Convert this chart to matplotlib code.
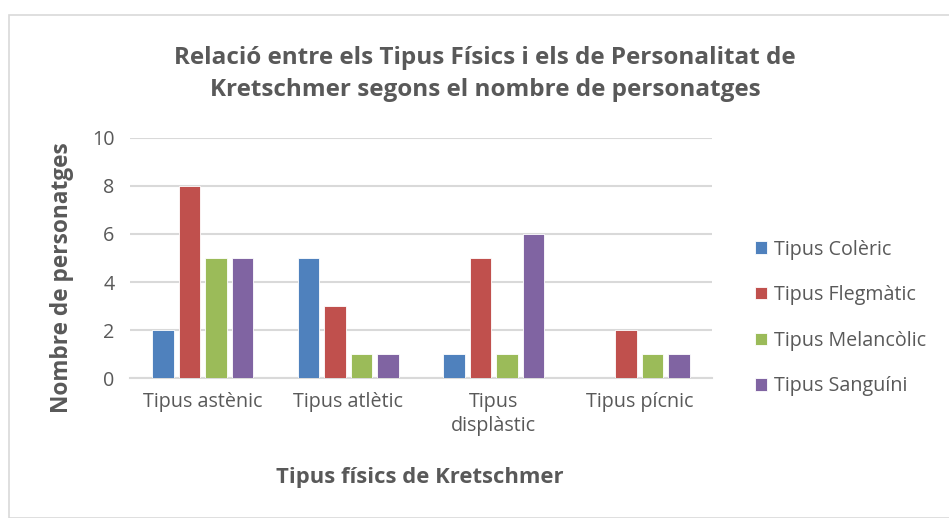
import matplotlib
matplotlib.use("Agg")
import matplotlib.pyplot as plt
import numpy as np
from matplotlib.patches import Rectangle

categories = ["Tipus astènic", "Tipus atlètic", "Tipus\ndisplàstic", "Tipus pícnic"]
series_names = ["Tipus Colèric", "Tipus Flegmàtic", "Tipus Melancòlic", "Tipus Sanguíni"]
colerico = [2, 5, 1, 0]
flegmatic = [8, 3, 5, 2]
melancolic = [5, 1, 1, 1]
sanguini = [5, 1, 6, 1]
series_values = [colerico, flegmatic, melancolic, sanguini]
colors = ["#4f81bd", "#c0504d", "#9bbb59", "#8064a2"]
yticks = [0, 2, 4, 6, 8, 10]

plt.rcParams['font.family'] = ['Open Sans', 'DejaVu Sans']

fig = plt.figure(figsize=(9.49, 5.18), dpi=100)
W, H = 949, 518
# chart border
fig.patches.append(Rectangle((8.5 / W, 0), 1.0, (518 - 14.5) / H, transform=fig.transFigure,
                             fill=False, edgecolor="#d9d9d9", linewidth=1.2))

ax = fig.add_axes([130 / W, (518 - 378) / H, (712 - 130) / W, 240 / H])
x = np.arange(len(categories))
step = 0.182
bw = 0.15
for i, (vals, c, name) in enumerate(zip(series_values, colors, series_names)):
    ax.bar(x + (i - 1.5) * step, vals, bw, color=c, label=name, edgecolor="white", linewidth=0.6, zorder=3)

ax.set_xlim(-0.5, len(categories) - 0.5)
ax.set_ylim(0, 10)
ax.set_yticks(yticks)
ax.set_xticks(x)
ax.set_xticklabels(categories)
ax.grid(axis="y", color="#d9d9d9", linewidth=1.5, zorder=0)
for s in ["top", "right", "left"]:
    ax.spines[s].set_visible(False)
ax.spines["bottom"].set_color("#d9d9d9")
ax.spines["bottom"].set_linewidth(1.5)
ax.tick_params(axis="both", length=0, colors="#595959", labelsize=14.2)
ax.tick_params(axis="y", pad=11)
ax.tick_params(axis="x", pad=10)
for lbl in ax.get_xticklabels():
    lbl.set_linespacing(1.25)

fig.text(485 / W, (518 - 74) / H,
         "Relació entre els Tipus Físics i els de Personalitat de\nKretschmer segons el nombre de personatges",
         ha="center", va="center", fontsize=17.5, fontweight="bold", color="#595959", linespacing=1.45)
fig.text(62 / W, (518 - 278) / H, "Nombre de personatges", rotation=90, ha="center", va="center",
         fontsize=16.3, fontweight="bold", color="#595959")
fig.text(420 / W, (518 - 478) / H, "Tipus físics de Kretschmer", ha="center", va="center",
         fontsize=15.8, fontweight="bold", color="#595959")

leg = ax.legend(loc="center left", bbox_to_anchor=(747 / W, (518 - 318) / H), bbox_transform=fig.transFigure,
                frameon=False, fontsize=14.2, handlelength=0.6, handleheight=0.6, handletextpad=0.35,
                labelspacing=1.3, borderaxespad=0)
for t in leg.get_texts():
    t.set_color("#595959")

fig.savefig("out.png", dpi=100)
